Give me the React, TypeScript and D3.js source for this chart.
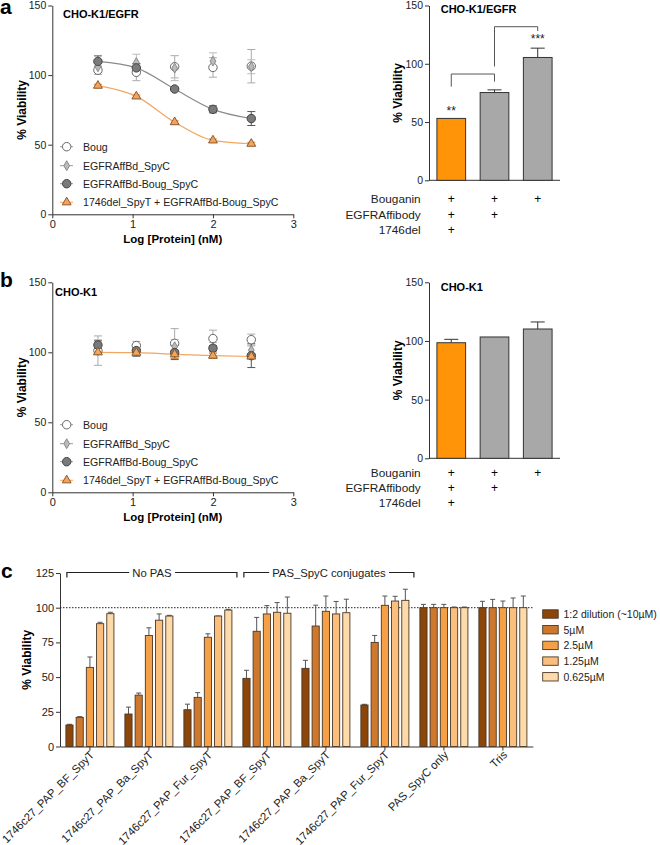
import React, { Component } from 'react';
import * as d3 from 'd3';

const FONT = '"Liberation Sans", Arial, Helvetica, sans-serif';

// ---- panels a / b : dose response ----
const doseLog = [0.568, 1.046, 1.523, 2.0, 2.477];
const curveLabels = ['Boug', 'EGFRAffBd_SpyC', 'EGFRAffBd-Boug_SpyC', '1746del_SpyT + EGFRAffBd-Boug_SpyC'];

const egfrBoug = [103.5, 102, 106, 105.5, 106.4];
const egfrBougErr = [3, 6, 8, 7, 12];
const egfrAffBd = [106, 109, 105, 110, 106];
const egfrAffBdErr = [4, 6, 9, 6, 5];
const egfrAffBdBoug = [109.8, 105.2, 90, 75.4, 68.8];
const egfrAffBdBougErr = [4, 3, 1, 2.5, 5];
const egfrDel = [92.4, 84.7, 66.2, 53.1, 50.7];
const egfrDelErr = [1, 1, 1, 1, 1];

const k1Boug = [101.2, 104.8, 106.4, 109.8, 109];
const k1BougErr = [10.5, 3, 10.5, 6, 4];
const k1AffBd = [105, 101, 104, 103, 101.5];
const k1AffBdErr = [4, 3, 5, 4, 3];
const k1AffBdBoug = [105.2, 101.2, 99.8, 102.9, 97.6];
const k1AffBdBougErr = [3, 4, 5, 2, 8.5];
const k1Del = [100, 99.7, 98.6, 97.6, 97];
const k1DelErr = [1, 1.5, 3, 2, 1.5];

// ---- panels a / b : bars ----
const barRows = ['Bouganin', 'EGFRAffibody', '1746del'];
const bougPlus = ['+', '+', '+'];
const affPlus = ['+', '+', ''];
const delPlus = ['+', '', ''];
const egfrBars = [53.1, 75.3, 105.4];
const egfrBarsErr = [0, 2.3, 8];
const k1Bars = [98.5, 103.4, 110.2];
const k1BarsErr = [2.9, 0, 6];

// ---- panel c ----
const cGroups = [
  '1746c27_PAP_BF_SpyT', '1746c27_PAP_Ba_SpyT', '1746c27_PAP_Fur_SpyT',
  '1746c27_PAP_BF_SpyT', '1746c27_PAP_Ba_SpyT', '1746c27_PAP_Fur_SpyT',
  'PAS_SpyC only', 'Tris',
];
const cSeries = ['1:2 dilution (~10µM)', '5µM', '2.5µM', '1.25µM', '0.625µM'];
const dil10 = [15.5, 23.4, 26.5, 49.1, 56.3, 29.9, 100, 100];
const dil5 = [21, 37, 35.4, 83, 86.8, 75, 100, 100];
const dil2p5 = [57, 80, 78.7, 95.5, 97.4, 101.7, 100, 100];
const dil1p25 = [88.5, 91, 94, 96.7, 95.5, 104.8, 100, 100];
const dil0p625 = [95.7, 94, 98.3, 96, 96.4, 105.3, 100, 100];
const err10 = [0.5, 5, 4, 5.8, 5.8, 0.5, 2.4, 4.6];
const err5 = [0.5, 1.5, 3.4, 10, 15, 5, 2.4, 6];
const err2p5 = [7.5, 5.5, 2.5, 6, 11, 6.7, 2.4, 4.8];
const err1p25 = [1, 4.5, 0, 7, 9, 3.4, 0.5, 7];
const err0p625 = [1, 0.5, 0.5, 11.7, 9.7, 8, 0.5, 8.4];
const cBrackets = [
  { label: 'No PAS', from: 0, to: 2 },
  { label: 'PAS_SpyC conjugates', from: 3, to: 5 },
];

const cColors = ['#8C460A', '#CD782D', '#F5A046', '#FABE7D', '#FDDAAA'];

const doseStyles = [
  { sym: d3.symbolCircle, size: 56, fill: '#fff', stroke: '#666', err: '#aaa' },
  { sym: d3.symbolDiamond, size: 28, fill: '#bbb', stroke: '#888', err: '#bbb' },
  { sym: d3.symbolCircle, size: 56, fill: '#7a7a7a', stroke: '#444', err: '#555' },
  { sym: d3.symbolTriangle, size: 34, fill: '#F3A35A', stroke: '#8C5A2E', err: '#c98a4a' },
];

function styleAxis(g: any, size = 10.5) {
  g.attr('font-family', FONT).attr('font-size', size);
  g.select('.domain').attr('stroke', '#333');
  g.selectAll('.tick line').attr('stroke', '#333');
  g.selectAll('.tick text').attr('fill', '#222');
}

function yLabel(svg: any, x: number, y: number, size = 12) {
  svg.append('text')
    .attr('transform', `translate(${x},${y}) rotate(-90)`)
    .attr('text-anchor', 'middle')
    .attr('font-family', FONT).attr('font-size', size).attr('font-weight', 'bold')
    .text('% Viability');
}

class Figure extends Component {
  svgRef = React.createRef<SVGSVGElement>();

  componentDidMount() {
    this.drawChart();
  }

  drawChart() {
    const svg = d3.select(this.svgRef.current);
    svg.selectAll('*').remove();

    svg.append('text').attr('x', 0).attr('y', 14).attr('font-family', FONT)
      .attr('font-size', 21).attr('font-weight', 'bold').text('a');
    svg.append('text').attr('x', 0).attr('y', 287).attr('font-family', FONT)
      .attr('font-size', 21).attr('font-weight', 'bold').text('b');
    svg.append('text').attr('x', 1).attr('y', 578).attr('font-family', FONT)
      .attr('font-size', 21).attr('font-weight', 'bold').text('c');

    this.drawDose(svg, 5.5, 4.3, 'CHO-K1/EGFR', 63,
      [[egfrBoug, egfrBougErr], [egfrAffBd, egfrAffBdErr], [egfrAffBdBoug, egfrAffBdBougErr], [egfrDel, egfrDelErr]],
      [2, 3]);
    this.drawDose(svg, 282.3, 282.3, 'CHO-K1', 55,
      [[k1Boug, k1BougErr], [k1AffBd, k1AffBdErr], [k1AffBdBoug, k1AffBdBougErr], [k1Del, k1DelErr]],
      [3]);

    this.drawBars(svg, 5.5, 4.3, 'CHO-K1/EGFR', egfrBars, egfrBarsErr, 18.7, true);
    this.drawBars(svg, 282.3, 282.3, 'CHO-K1', k1Bars, k1BarsErr, 14, false);

    this.drawPanelC(svg);
  }

  drawDose(svg: any, top: number, base: number, title: string, titleX: number, series: number[][][], curves: number[]) {
    const x = d3.scaleLinear().domain([0, 3]).range([52.3, 293.3]);
    const y = d3.scaleLinear().domain([0, 150]).range([base + 210, top]);

    styleAxis(svg.append('g').attr('transform', `translate(${x(0)},0)`)
      .call(d3.axisLeft(y).tickValues([0, 50, 100, 150]).tickSize(4).tickSizeOuter(0).tickPadding(2)));
    styleAxis(svg.append('g').attr('transform', `translate(0,${y(0)})`)
      .call(d3.axisBottom(x).tickValues([0, 1, 2, 3]).tickFormat(d3.format('d'))
        .tickSize(4).tickSizeOuter(0).tickPadding(2)), 11);

    svg.append('text').attr('x', (x(0) + x(3)) / 2).attr('y', y(0) + 29)
      .attr('text-anchor', 'middle').attr('font-family', FONT).attr('font-size', 11.5)
      .attr('font-weight', 'bold').text('Log [Protein] (nM)');
    yLabel(svg, 26, (y(0) + y(150)) / 2);
    svg.append('text').attr('x', titleX).attr('y', base + 14)
      .attr('font-family', FONT).attr('font-size', 11).attr('font-weight', 'bold').text(title);

    // error bars
    series.forEach(([vals, errs], si) => {
      const st = doseStyles[si];
      const g = svg.append('g').attr('stroke', st.err).attr('stroke-width', 1);
      vals.forEach((v, i) => {
        const e = errs[i];
        if (e <= 0) return;
        const cx = x(doseLog[i]);
        g.append('line').attr('x1', cx).attr('x2', cx).attr('y1', y(v - e)).attr('y2', y(v + e));
        g.append('line').attr('x1', cx - 4).attr('x2', cx + 4).attr('y1', y(v - e)).attr('y2', y(v - e));
        g.append('line').attr('x1', cx - 4).attr('x2', cx + 4).attr('y1', y(v + e)).attr('y2', y(v + e));
      });
    });

    // curves
    const line = d3.line<number>().x((_, i) => x(doseLog[i])).y(d => y(d)).curve(d3.curveMonotoneX);
    curves.forEach(ci => {
      svg.append('path').attr('d', line(series[ci][0]))
        .attr('fill', 'none').attr('stroke', ci === 3 ? '#F2A65E' : '#8a8a8a').attr('stroke-width', 1.2);
    });

    // markers
    series.forEach(([vals], si) => {
      const st = doseStyles[si];
      const sym = d3.symbol().type(st.sym).size(st.size);
      svg.append('g').selectAll('path').data(vals).enter().append('path')
        .attr('d', sym())
        .attr('transform', (d: number, i: number) => `translate(${x(doseLog[i])},${y(d)})`)
        .attr('fill', st.fill).attr('stroke', st.stroke).attr('stroke-width', 1);
    });

    // legend
    const rows = [142.4, 161.4, 179.4, 198];
    curveLabels.forEach((lab, si) => {
      const st = doseStyles[si];
      const ly = base + rows[si];
      svg.append('line').attr('x1', 60).attr('x2', 73).attr('y1', ly).attr('y2', ly)
        .attr('stroke', si === 3 ? '#F2A65E' : '#999').attr('stroke-width', 1);
      svg.append('path').attr('d', d3.symbol().type(st.sym).size(st.size)())
        .attr('transform', `translate(66.7,${ly})`)
        .attr('fill', st.fill).attr('stroke', st.stroke).attr('stroke-width', 1);
      svg.append('text').attr('x', 83).attr('y', ly + 4)
        .attr('font-family', FONT).attr('font-size', 10.6).attr('fill', '#222').text(lab);
    });
  }

  drawBars(svg: any, top: number, base: number, title: string, vals: number[], errs: number[], labelGap: number, brackets: boolean) {
    const x = d3.scaleBand<number>().domain([0, 1, 2]).range([429, 560]).paddingInner(0.336).paddingOuter(0.183);
    const y = d3.scaleLinear().domain([0, 150]).range([base + 176, top]);

    styleAxis(svg.append('g').attr('transform', 'translate(429,0)')
      .call(d3.axisLeft(y).tickValues([0, 50, 100, 150]).tickSize(4).tickSizeOuter(0).tickPadding(2)));
    svg.append('line').attr('x1', 429).attr('x2', 560).attr('y1', y(0)).attr('y2', y(0))
      .attr('stroke', '#333');

    yLabel(svg, 402, (y(0) + y(150)) / 2);
    svg.append('text').attr('x', 440.7).attr('y', base + 9)
      .attr('font-family', FONT).attr('font-size', 11).attr('font-weight', 'bold').text(title);

    const bw = x.bandwidth();
    vals.forEach((v, i) => {
      const cx = (x(i) as number) + bw / 2;
      const e = errs[i];
      if (e > 0) {
        svg.append('line').attr('x1', cx).attr('x2', cx).attr('y1', y(v)).attr('y2', y(v + e))
          .attr('stroke', '#333');
        svg.append('line').attr('x1', cx - 7).attr('x2', cx + 7).attr('y1', y(v + e)).attr('y2', y(v + e))
          .attr('stroke', '#333');
      }
    });
    svg.append('g').selectAll('rect').data(vals).enter().append('rect')
      .attr('x', (_: number, i: number) => x(i) as number)
      .attr('y', (d: number) => y(d))
      .attr('width', bw)
      .attr('height', (d: number) => y(0) - y(d))
      .attr('fill', (_: number, i: number) => (i === 0 ? '#FF9408' : '#A8A8A8'))
      .attr('stroke', '#333').attr('stroke-width', 1);

    // condition table
    const plus = [bougPlus, affPlus, delPlus];
    barRows.forEach((lab, r) => {
      const by = y(0) + labelGap + 4.3 + r * 15.3;
      svg.append('text').attr('x', 420.7).attr('y', by).attr('text-anchor', 'end')
        .attr('font-family', FONT).attr('font-size', 11.8).attr('fill', '#222').text(lab);
      plus[r].forEach((p, i) => {
        if (!p) return;
        svg.append('text').attr('x', (x(i) as number) + bw / 2).attr('y', by)
          .attr('text-anchor', 'middle').attr('font-family', FONT).attr('font-size', 12).text(p);
      });
    });

    if (brackets) {
      const cxs = [0, 1, 2].map(i => (x(i) as number) + bw / 2);
      const br = [
        { a: 0, b: 1, top: 91.2, legA: 80.4, legB: 84.7 },
        { a: 1, b: 2, top: 131.8, legA: 97.7, legB: 128.1 },
      ];
      br.forEach(b => {
        svg.append('path')
          .attr('d', `M${cxs[b.a]},${y(b.legA)}V${y(b.top)}H${cxs[b.b]}V${y(b.legB)}`)
          .attr('fill', 'none').attr('stroke', '#555').attr('stroke-width', 1);
      });
      const stars = [{ i: 0, s: '**', v: 55.8 }, { i: 2, s: '***', v: 118 }];
      stars.forEach(s => {
        svg.append('text').attr('x', cxs[s.i]).attr('y', y(s.v)).attr('text-anchor', 'middle')
          .attr('font-family', FONT).attr('font-size', 12).attr('fill', '#222').text(s.s);
      });
    }
  }

  drawPanelC(svg: any) {
    const vals = [dil10, dil5, dil2p5, dil1p25, dil0p625];
    const errs = [err10, err5, err2p5, err1p25, err0p625];
    const x0 = d3.scaleBand<string>().domain(cGroups.map((_, i) => String(i)))
      .range([60, 532.8]).paddingInner(0.186).paddingOuter(0.1);
    const x1 = d3.scaleBand<number>().domain([0, 1, 2, 3, 4]).range([0, x0.bandwidth()]).paddingInner(0.3);
    const y = d3.scaleLinear().domain([0, 125]).range([746.5, 573]);

    styleAxis(svg.append('g').attr('transform', 'translate(60,0)')
      .call(d3.axisLeft(y).tickValues([0, 25, 50, 75, 100, 125]).tickSize(4).tickSizeOuter(0).tickPadding(2)), 11);

    const xAxis = svg.append('g').attr('transform', `translate(0,${y(0)})`)
      .call(d3.axisBottom(x0).tickSize(4).tickSizeOuter(0).tickFormat((d: string) => cGroups[+d]));
    styleAxis(xAxis);
    xAxis.selectAll('.tick text')
      .attr('x', 0).attr('y', 0).attr('dy', 0)
      .attr('transform', 'translate(5,9) rotate(-45)')
      .attr('text-anchor', 'end').attr('font-size', 11.3);

    yLabel(svg, 31, (y(0) + y(125)) / 2);

    // reference line at 100
    svg.append('line').attr('x1', 60).attr('x2', 533).attr('y1', y(100)).attr('y2', y(100))
      .attr('stroke', '#222').attr('stroke-width', 1).attr('stroke-dasharray', '1.5,1.5');

    const bw = x1.bandwidth();
    // error bars
    vals.forEach((sv, si) => {
      sv.forEach((v, gi) => {
        const e = errs[si][gi];
        const cx = (x0(String(gi)) as number) + (x1(si) as number) + bw / 2;
        svg.append('line').attr('x1', cx).attr('x2', cx).attr('y1', y(v)).attr('y2', y(v + e))
          .attr('stroke', '#555');
        svg.append('line').attr('x1', cx - 2.5).attr('x2', cx + 2.5).attr('y1', y(v + e)).attr('y2', y(v + e))
          .attr('stroke', '#555');
      });
    });
    // bars
    vals.forEach((sv, si) => {
      svg.append('g').selectAll('rect').data(sv).enter().append('rect')
        .attr('x', (_: number, gi: number) => (x0(String(gi)) as number) + (x1(si) as number))
        .attr('y', (d: number) => y(d))
        .attr('width', bw)
        .attr('height', (d: number) => y(0) - y(d))
        .attr('fill', cColors[si])
        .attr('stroke', '#4a3826').attr('stroke-width', 0.9);
    });

    // group brackets
    cBrackets.forEach(b => {
      const xa = (x0(String(b.from)) as number) + 1;
      const xb = (x0(String(b.to)) as number) + x0.bandwidth() + 5;
      const by = 572.5;
      svg.append('path').attr('d', `M${xa},${by + 5}V${by}H${xb}V${by + 5}`)
        .attr('fill', 'none').attr('stroke', '#222').attr('stroke-width', 1.2);
      const t = svg.append('text').attr('x', (xa + xb) / 2).attr('y', by + 4)
        .attr('text-anchor', 'middle').attr('font-family', FONT).attr('font-size', 11.3)
        .attr('fill', '#222').text(b.label);
      const bb = (t.node() as SVGTextElement).getBBox();
      svg.insert('rect', () => t.node())
        .attr('x', bb.x - 3).attr('y', by - 2).attr('width', bb.width + 6).attr('height', 4)
        .attr('fill', '#fff');
    });

    // legend
    cSeries.forEach((lab, si) => {
      const ly = 614 + si * 15.7;
      svg.append('rect').attr('x', 542.7).attr('y', ly - 4.2).attr('width', 15.5).attr('height', 8.4)
        .attr('fill', cColors[si]).attr('stroke', '#4a3826').attr('stroke-width', 0.9);
      svg.append('text').attr('x', 563.5).attr('y', ly + 4)
        .attr('font-family', FONT).attr('font-size', 10.5).attr('fill', '#222').text(lab);
    });
  }

  render() {
    return (
      <svg ref={this.svgRef} width={660} height={845}
        style={{ position: 'absolute', left: 0, top: 0, background: '#fff' }} />
    );
  }
}

export default function App() {
  return <Figure />;
}
